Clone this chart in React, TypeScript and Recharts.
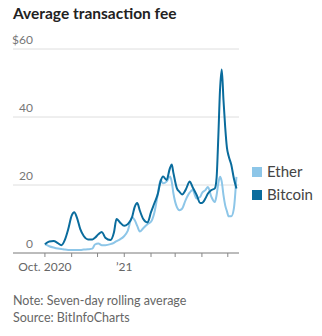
import React from 'react';
import { LineChart, Line, XAxis, YAxis, CartesianGrid } from 'recharts';

// days since Oct. 1, 2020
const days = [
  0, 5, 10, 15, 19, 23, 27, 31, 34, 37, 41, 45, 50, 55, 58, 62, 66, 70, 76, 80, 83, 87, 92, 96, 101, 104,
  107, 110, 114, 119, 123, 127, 131, 134, 137, 141, 145, 147, 149, 153, 156, 159, 163, 168, 171, 176, 180,
  182, 186, 189, 193, 197, 199, 201, 203, 205, 207, 209, 211, 213, 216, 219, 222,
];
const bitcoin = [
  2.6, 3.4, 3.5, 2.9, 2.3, 3.8, 7, 11, 12, 10.5, 7, 5, 4, 4, 4.5, 5.5, 6.2, 4.5, 3.8, 6, 10, 9, 8, 8.5, 10.5,
  13.5, 14.7, 12.5, 10, 9, 12, 14.7, 17.5, 21, 22.5, 21.5, 25, 26, 23.5, 19, 18, 17.2, 18.5, 21, 19.5, 17,
  14.7, 14.7, 16, 17.5, 18.5, 19, 22, 34, 48, 54, 45, 37, 31, 28.5, 26, 22, 19,
];
const ether = [
  2.6, 2, 1.6, 1.3, 1.2, 1.0, 0.9, 0.9, 0.9, 0.9, 0.9, 1.0, 1.1, 1.3, 2.5, 2.8, 2.3, 2.3, 2.6, 3, 3.5, 4, 5,
  6.5, 10.5, 9.7, 8, 6.3, 7.3, 8.5, 9.2, 12, 17.5, 21.5, 20.5, 21, 22.5, 21, 17.5, 13.5, 12.6, 13, 15.5,
  17.8, 18.5, 16, 16.5, 17.6, 18.5, 19.4, 16.5, 15, 17, 20.5, 22.4, 21, 17, 14, 12.3, 10.8, 10.8, 13, 22.4,
];
const monthTicks = [0, 31, 61, 92, 123, 151, 182, 212];
const monthLabels: Record<number, string> = { 0: 'Oct. 2020', 92: '\u201921' };
const yTicks = [0, 20, 40, 60];

const ETHER = '#8dc6e8';
const BITCOIN = '#0a6c9d';
const FONT = 'Lato, "Open Sans", sans-serif';

const series = [
  { key: 'ether', name: 'Ether', color: ETHER },
  { key: 'bitcoin', name: 'Bitcoin', color: BITCOIN },
];

const data = days.map((d, i) => ({ day: d, bitcoin: bitcoin[i], ether: ether[i] }));

const YTick = (props: any) => {
  const { y, payload } = props;
  return (
    <text x={33} y={y - 5} textAnchor="end" fontSize={12} fill="#777" fontFamily={FONT}>
      {payload.value === 60 ? '$60' : payload.value}
    </text>
  );
};

export default function App() {
  return (
    <div style={{ position: 'absolute', left: 0, top: 0, width: 322, height: 336, background: '#fff', fontFamily: FONT }}>
      <div style={{ position: 'absolute', left: 13, top: 4, fontSize: 15.5, fontWeight: 700, color: '#222' }}>
        Average transaction fee
      </div>
      <div style={{ position: 'absolute', left: 0, top: 0 }}>
        <LineChart width={322} height={280} data={data} margin={{ top: 49, right: 83, bottom: 7, left: 12 }}>
          <CartesianGrid vertical={false} stroke="#dedede" />
          <XAxis
            dataKey="day"
            type="number"
            domain={[-37, 225]}
            ticks={monthTicks}
            tickFormatter={(v: number) => monthLabels[v] ?? ''}
            height={20}
            axisLine={{ stroke: '#888' }}
            tickLine={{ stroke: '#888' }}
            tickSize={4}
            tick={{ fontSize: 12, fill: '#666', fontFamily: FONT, dy: 3 }}
            interval={0}
          />
          <YAxis
            width={1}
            domain={[0, 60]}
            ticks={yTicks}
            interval={0}
            axisLine={false}
            tickLine={false}
            tick={(p: any) => <YTick {...p} />}
          />
          {series.map((s) => (
            <Line
              key={s.key}
              type="monotone"
              dataKey={s.key}
              name={s.name}
              stroke={s.color}
              strokeWidth={2}
              dot={false}
              isAnimationActive={false}
            />
          ))}
        </LineChart>
      </div>
      <div style={{ position: 'absolute', left: 252, top: 160, fontSize: 15, color: '#444', lineHeight: '23px' }}>
        {series.map((s) => (
          <div key={s.key} style={{ display: 'flex', alignItems: 'center' }}>
            <span style={{ width: 10, height: 10, background: s.color, marginRight: 5 }} />
            {s.name}
          </div>
        ))}
      </div>
      <div style={{ position: 'absolute', left: 13, top: 292, fontSize: 12.5, color: '#666', lineHeight: '17px' }}>
        Note: Seven-day rolling average
        <br />
        Source: BitInfoCharts
      </div>
    </div>
  );
}
